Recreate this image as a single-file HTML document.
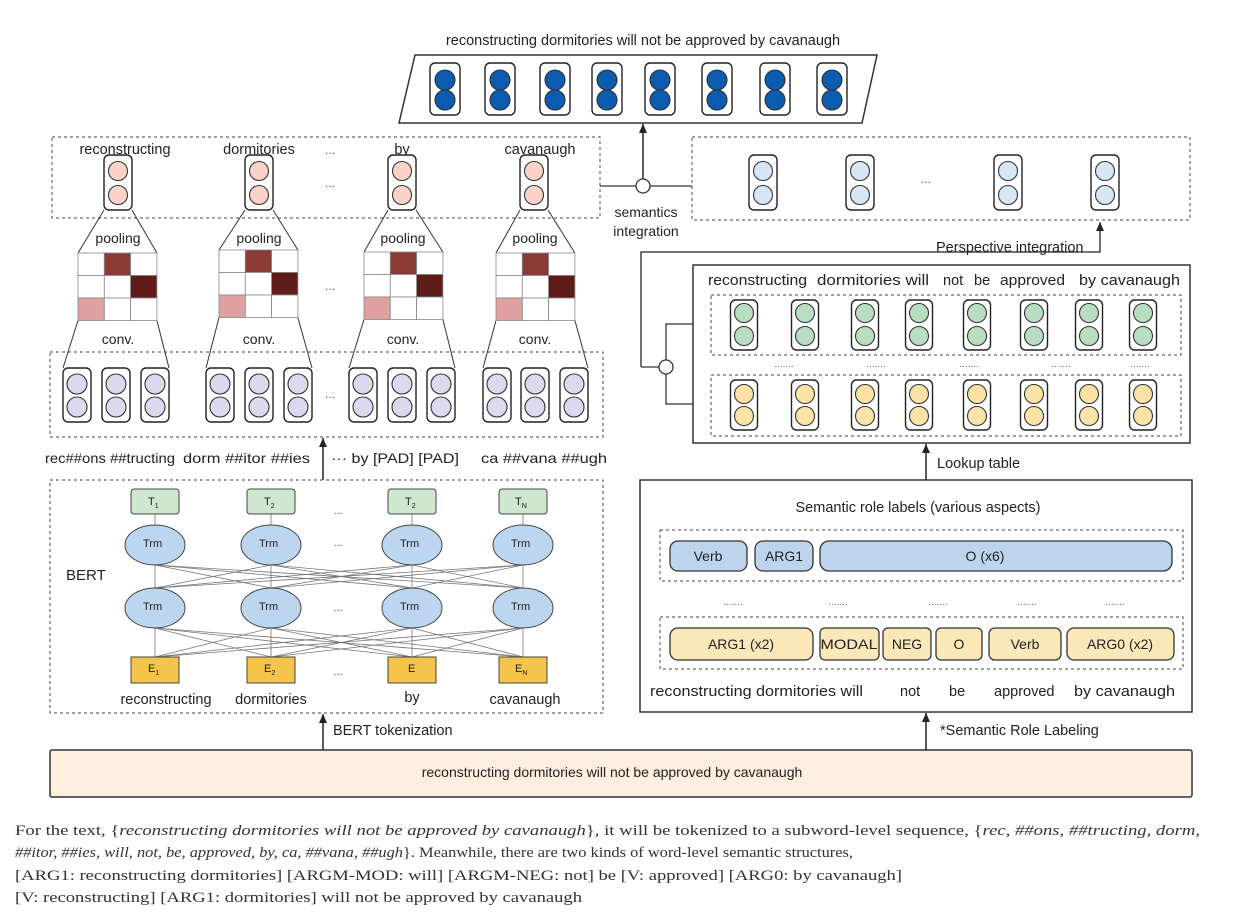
<!DOCTYPE html>
<html><head><meta charset="utf-8">
<style>
html,body{margin:0;padding:0;background:#fff;}
svg{display:block;font-family:"Liberation Sans",sans-serif;}
.serif{font-family:"Liberation Serif",serif;}
</style></head>
<body>
<svg id="s" width="1242" height="916" viewBox="0 0 1242 916" xmlns="http://www.w3.org/2000/svg">
<defs>
<marker id="ah" markerWidth="10" markerHeight="10" refX="9" refY="4" orient="auto" markerUnits="userSpaceOnUse">
<path d="M0,0 L9,4 L0,8 Z" fill="#222"/></marker>
</defs>

<!-- top -->
<text x="643" y="45" font-size="14.5" text-anchor="middle" fill="#222">reconstructing dormitories will not be approved by cavanaugh</text>
<polygon points="415,55 877,55 862,123 399,123" fill="#fff" stroke="#333" stroke-width="1.5"/>

<!-- left top dashed -->
<rect x="52" y="137" width="548" height="81" fill="none" stroke="#444" stroke-dasharray="3,3"/>
<text x="125" y="154" font-size="14.5" text-anchor="middle" fill="#222">reconstructing</text>
<text x="259" y="154" font-size="14.5" text-anchor="middle" fill="#222">dormitories</text>
<text x="330" y="154" font-size="12" text-anchor="middle" fill="#555">...</text>
<text x="402" y="154" font-size="14.5" text-anchor="middle" fill="#222">by</text>
<text x="540" y="154" font-size="14.5" text-anchor="middle" fill="#222">cavanaugh</text>
<text x="330" y="187" font-size="12" text-anchor="middle" fill="#555">...</text>

<text x="118" y="243" font-size="14" text-anchor="middle" fill="#222">pooling</text>
<text x="259" y="243" font-size="14" text-anchor="middle" fill="#222">pooling</text>
<text x="403" y="243" font-size="14" text-anchor="middle" fill="#222">pooling</text>
<text x="535" y="243" font-size="14" text-anchor="middle" fill="#222">pooling</text>
<text x="118" y="344" font-size="14" text-anchor="middle" fill="#222">conv.</text>
<text x="259" y="344" font-size="14" text-anchor="middle" fill="#222">conv.</text>
<text x="403" y="344" font-size="14" text-anchor="middle" fill="#222">conv.</text>
<text x="535" y="344" font-size="14" text-anchor="middle" fill="#222">conv.</text>
<text x="330" y="290" font-size="12" text-anchor="middle" fill="#555">...</text>

<rect x="50" y="352" width="553" height="85" fill="none" stroke="#444" stroke-dasharray="3,3"/>
<text x="330" y="398" font-size="12" text-anchor="middle" fill="#555">...</text>
<text x="45" y="463" font-size="14" fill="#222" textLength="130" lengthAdjust="spacingAndGlyphs">rec##ons ##tructing</text>
<text x="183" y="463" font-size="14" fill="#222" textLength="127" lengthAdjust="spacingAndGlyphs">dorm ##itor ##ies</text>
<text x="331" y="463" font-size="14" fill="#222" textLength="128" lengthAdjust="spacingAndGlyphs">··· by [PAD] [PAD]</text>
<text x="481" y="463" font-size="14" fill="#222" textLength="126" lengthAdjust="spacingAndGlyphs">ca ##vana ##ugh</text>
<line x1="323" y1="480" x2="323" y2="438" stroke="#222" stroke-width="1.5" marker-end="url(#ah)"/>

<!-- BERT -->
<rect x="50" y="480" width="553" height="233" fill="none" stroke="#444" stroke-dasharray="3,3"/>
<text x="66" y="580" font-size="15" fill="#222">BERT</text>
<g id="bert"></g>
<text x="166" y="704" font-size="14.5" text-anchor="middle" fill="#222">reconstructing</text>
<text x="271" y="704" font-size="14.5" text-anchor="middle" fill="#222">dormitories</text>
<text x="412" y="702" font-size="14.5" text-anchor="middle" fill="#222">by</text>
<text x="525" y="704" font-size="14.5" text-anchor="middle" fill="#222">cavanaugh</text>
<text x="338" y="514" font-size="11" text-anchor="middle" fill="#555">...</text>
<text x="338" y="546" font-size="11" text-anchor="middle" fill="#555">...</text>
<text x="338" y="611" font-size="11" text-anchor="middle" fill="#555">...</text>
<text x="338" y="675" font-size="11" text-anchor="middle" fill="#555">...</text>

<line x1="323" y1="750" x2="323" y2="714" stroke="#222" stroke-width="1.5" marker-end="url(#ah)"/>
<text x="333" y="735" font-size="14.5" fill="#222">BERT tokenization</text>

<rect x="50" y="750" width="1142" height="47" fill="#fdeedd" stroke="#333" stroke-width="1.5" rx="2"/>
<text x="612" y="777" font-size="14" text-anchor="middle" fill="#222">reconstructing dormitories will not be approved by cavanaugh</text>

<!-- semantics integration -->
<line x1="600" y1="186" x2="692" y2="186" stroke="#333" stroke-width="1.3"/>
<line x1="643" y1="179" x2="643" y2="124" stroke="#222" stroke-width="1.5" marker-end="url(#ah)"/>
<circle cx="643" cy="186" r="7" fill="#fff" stroke="#333" stroke-width="1.3"/>
<text x="646" y="217" font-size="14" text-anchor="middle" fill="#222">semantics</text>
<text x="646" y="236" font-size="14" text-anchor="middle" fill="#222">integration</text>

<!-- right top dashed -->
<rect x="692" y="137" width="498" height="83" fill="none" stroke="#444" stroke-dasharray="3,3"/>
<text x="926" y="183" font-size="12" text-anchor="middle" fill="#555">...</text>
<polyline points="641,367 641,252 1100,252 1100,222" fill="none" stroke="#222" stroke-width="1.3" marker-end="url(#ah)"/>
<text x="936" y="252" font-size="14.5" fill="#222">Perspective integration</text>
<polyline points="693,324 666,324 666,404 693,404" fill="none" stroke="#333" stroke-width="1.3"/>
<line x1="641" y1="367" x2="660" y2="367" stroke="#333" stroke-width="1.3"/>
<circle cx="666" cy="367" r="7" fill="#fff" stroke="#333" stroke-width="1.3"/>

<rect x="693" y="265" width="497" height="178" fill="#fff" stroke="#333" stroke-width="1.5"/>
<g font-size="14.5" fill="#222">
<text x="708" y="285" textLength="99" lengthAdjust="spacingAndGlyphs">reconstructing</text>
<text x="817" y="285" textLength="112" lengthAdjust="spacingAndGlyphs">dormitories will</text>
<text x="943" y="285">not</text>
<text x="974" y="285">be</text>
<text x="1000" y="285" textLength="65" lengthAdjust="spacingAndGlyphs">approved</text>
<text x="1079" y="285" textLength="101" lengthAdjust="spacingAndGlyphs">by cavanaugh</text>
</g>
<rect x="711" y="295" width="470" height="60" fill="none" stroke="#444" stroke-dasharray="3,3"/>
<rect x="711" y="375" width="470" height="61" fill="none" stroke="#444" stroke-dasharray="3,3"/>
<text x="784" y="367" font-size="10" text-anchor="middle" fill="#666">.......</text>
<text x="876" y="367" font-size="10" text-anchor="middle" fill="#666">.......</text>
<text x="969" y="367" font-size="10" text-anchor="middle" fill="#666">.......</text>
<text x="1061" y="367" font-size="10" text-anchor="middle" fill="#666">.......</text>
<text x="1140" y="367" font-size="10" text-anchor="middle" fill="#666">.......</text>

<line x1="926" y1="480" x2="926" y2="444" stroke="#222" stroke-width="1.5" marker-end="url(#ah)"/>
<text x="937" y="468" font-size="14.5" fill="#222">Lookup table</text>

<!-- SRL box -->
<rect x="640" y="480" width="552" height="232" fill="#fff" stroke="#333" stroke-width="1.5"/>
<text x="918" y="512" font-size="14.5" text-anchor="middle" fill="#222">Semantic  role labels (various aspects)</text>
<rect x="660" y="530" width="523" height="51" fill="none" stroke="#444" stroke-dasharray="3,3"/>
<rect x="670" y="541" width="77" height="30" rx="8" fill="#bcd4ec" stroke="#333" stroke-width="1.3"/>
<rect x="755" y="541" width="58" height="30" rx="8" fill="#bcd4ec" stroke="#333" stroke-width="1.3"/>
<rect x="820" y="541" width="352" height="30" rx="9" fill="#bcd4ec" stroke="#333" stroke-width="1.3"/>
<text x="708" y="561" font-size="14" text-anchor="middle" fill="#222">Verb</text>
<text x="784" y="561" font-size="14" text-anchor="middle" fill="#222">ARG1</text>
<text x="985" y="561" font-size="14" text-anchor="middle" fill="#222">O (x6)</text>
<text x="733" y="605" font-size="10" text-anchor="middle" fill="#666">.......</text>
<text x="838" y="605" font-size="10" text-anchor="middle" fill="#666">.......</text>
<text x="938" y="605" font-size="10" text-anchor="middle" fill="#666">.......</text>
<text x="1027" y="605" font-size="10" text-anchor="middle" fill="#666">.......</text>
<text x="1115" y="605" font-size="10" text-anchor="middle" fill="#666">.......</text>
<rect x="660" y="617" width="523" height="52" fill="none" stroke="#444" stroke-dasharray="3,3"/>
<rect x="670" y="628" width="143" height="32" rx="8" fill="#fbe8b8" stroke="#333" stroke-width="1.3"/>
<rect x="820" y="628" width="59" height="32" rx="5" fill="#fbe8b8" stroke="#333" stroke-width="1.3"/>
<rect x="883" y="628" width="48" height="32" rx="5" fill="#fbe8b8" stroke="#333" stroke-width="1.3"/>
<rect x="936" y="628" width="46" height="32" rx="5" fill="#fbe8b8" stroke="#333" stroke-width="1.3"/>
<rect x="989" y="628" width="72" height="32" rx="6" fill="#fbe8b8" stroke="#333" stroke-width="1.3"/>
<rect x="1067" y="628" width="107" height="32" rx="7" fill="#fbe8b8" stroke="#333" stroke-width="1.3"/>
<text x="741" y="649" font-size="14" text-anchor="middle" fill="#222">ARG1 (x2)</text>
<text x="849" y="649" font-size="14" text-anchor="middle" fill="#222" textLength="57" lengthAdjust="spacingAndGlyphs">MODAL</text>
<text x="907" y="649" font-size="14" text-anchor="middle" fill="#222">NEG</text>
<text x="959" y="649" font-size="14" text-anchor="middle" fill="#222">O</text>
<text x="1025" y="649" font-size="14" text-anchor="middle" fill="#222">Verb</text>
<text x="1120" y="649" font-size="14" text-anchor="middle" fill="#222">ARG0 (x2)</text>
<text x="650" y="696" font-size="14.5" fill="#222" textLength="213" lengthAdjust="spacingAndGlyphs">reconstructing dormitories will</text>
<text x="900" y="696" font-size="14.5" fill="#222">not</text>
<text x="949" y="696" font-size="14.5" fill="#222">be</text>
<text x="994" y="696" font-size="14.5" fill="#222">approved</text>
<text x="1074" y="696" font-size="14.5" fill="#222" textLength="101" lengthAdjust="spacingAndGlyphs">by cavanaugh</text>

<line x1="926" y1="750" x2="926" y2="713" stroke="#222" stroke-width="1.5" marker-end="url(#ah)"/>
<text x="940" y="735" font-size="14.5" fill="#222">*Semantic Role Labeling</text>

<!-- caption -->
<g class="serif" font-size="15" fill="#333">
<text x="15" y="835" textLength="1185" lengthAdjust="spacingAndGlyphs">For the text, {<tspan font-style="italic">reconstructing dormitories will not be approved by cavanaugh</tspan>}, it will be tokenized to a subword-level sequence, {<tspan font-style="italic">rec, ##ons, ##tructing, dorm,</tspan></text>
<text x="15" y="857" textLength="838" lengthAdjust="spacingAndGlyphs"><tspan font-style="italic">##itor, ##ies, will, not, be, approved, by, ca, ##vana, ##ugh</tspan>}. Meanwhile, there are two kinds of word-level semantic structures,</text>
<text x="15" y="880" textLength="887" lengthAdjust="spacingAndGlyphs">[ARG1: reconstructing dormitories] [ARGM-MOD: will] [ARGM-NEG: not] be [V: approved] [ARG0: by cavanaugh]</text>
<text x="15" y="902" textLength="567" lengthAdjust="spacingAndGlyphs">[V: reconstructing] [ARG1: dormitories] will not be approved by cavanaugh</text>
</g>
<g id="shapes"></g>
</svg>
<script>
var NS="http://www.w3.org/2000/svg",g=document.getElementById("shapes"),b=document.getElementById("bert");
function el(p,t,a){var e=document.createElementNS(NS,t);for(var k in a)e.setAttribute(k,a[k]);p.appendChild(e);return e;}
function pill(cx,y1,y2,w,fill,cy1,cy2,r){
 el(g,"rect",{x:cx-w/2,y:y1,width:w,height:y2-y1,rx:5,fill:"#fff",stroke:"#222","stroke-width":1.4});
 el(g,"circle",{cx:cx,cy:cy1,r:r,fill:fill,stroke:"#333","stroke-width":1.1});
 el(g,"circle",{cx:cx,cy:cy2,r:r,fill:fill,stroke:"#333","stroke-width":1.1});
}
[445,500,555,607,660,717,775,832].forEach(function(x){pill(x,63,115,30,"#0b5cb0",80,100,10);});
[118,259,402,534].forEach(function(x){pill(x,155,210,28,"#f9d2c8",171,195,9.5);});
[763,860,1008,1105].forEach(function(x){pill(x,155,210,28,"#d6e6f5",171,195,9.5);});
[744,805,865,919,977,1034,1089,1143].forEach(function(x){pill(x,300,350,27,"#b9ddc3",313,336,9.5);});
[744,805,865,919,977,1034,1089,1143].forEach(function(x){pill(x,380,430,27,"#fbe3a8",394,416,9.5);});
var groups=[[77,116,155],[220,259,298],[363,402,441],[497,535,574]];
var mats=[78,219,364,496],matY=[253,250,252,253],pc=[118,259,402,534];
groups.forEach(function(gr,i){
 gr.forEach(function(x){pill(x,368,422,28,"#dcd8ee",384,407,10);});
 var mx=mats[i],my=matY[i],c=26.3;
 el(g,"line",{x1:pc[i]-14,y1:210,x2:mx,y2:my,stroke:"#333","stroke-width":1});
 el(g,"line",{x1:pc[i]+14,y1:210,x2:mx+3*c,y2:my,stroke:"#333","stroke-width":1});
 var ch=22.5;
 el(g,"line",{x1:mx,y1:my+3*ch,x2:gr[0]-14,y2:368,stroke:"#333","stroke-width":1});
 el(g,"line",{x1:mx+3*c,y1:my+3*ch,x2:gr[2]+14,y2:368,stroke:"#333","stroke-width":1});
 var cols={"0,1":"#8b3a36","1,2":"#5e1b18","2,0":"#dea0a0"};
 for(var r=0;r<3;r++)for(var q=0;q<3;q++){
  el(g,"rect",{x:mx+q*c,y:my+r*ch,width:c,height:ch,fill:cols[r+","+q]||"#fff",stroke:"#888","stroke-width":0.8});
 }
});
var bx=[155,271,412,523];
for(var i=0;i<4;i++)for(var j=0;j<4;j++){
 el(b,"line",{x1:bx[i],y1:657,x2:bx[j],y2:628,stroke:"#777","stroke-width":0.8});
 el(b,"line",{x1:bx[i],y1:588,x2:bx[j],y2:565,stroke:"#777","stroke-width":0.8});
}
bx.forEach(function(x,i){
 el(b,"line",{x1:x,y1:525,x2:x,y2:514,stroke:"#777","stroke-width":0.8});
 el(b,"rect",{x:x-24,y:489,width:48,height:25,rx:3,fill:"#cfe6cf",stroke:"#444","stroke-width":1});
 el(b,"ellipse",{cx:x,cy:545,rx:30,ry:20,fill:"#bcd6ef",stroke:"#444","stroke-width":1});
 el(b,"ellipse",{cx:x,cy:608,rx:30,ry:20,fill:"#bcd6ef",stroke:"#444","stroke-width":1});
 el(b,"rect",{x:x-24,y:657,width:48,height:26,fill:"#f5c44a",stroke:"#444","stroke-width":1});
});
</script>
<div style="position:absolute;left:0;top:0;width:1242px;height:916px;pointer-events:none;font-family:'Liberation Sans',sans-serif;color:#222;">
<span style="position:absolute;left:148px;top:496px;font-size:11px">T<sub style="font-size:7px">1</sub></span>
<span style="position:absolute;left:264px;top:496px;font-size:11px">T<sub style="font-size:7px">2</sub></span>
<span style="position:absolute;left:405px;top:496px;font-size:11px">T<sub style="font-size:7px">2</sub></span>
<span style="position:absolute;left:515px;top:496px;font-size:11px">T<sub style="font-size:7px">N</sub></span>
<span style="position:absolute;left:143px;top:538px;font-size:11px">Trm</span>
<span style="position:absolute;left:259px;top:538px;font-size:11px">Trm</span>
<span style="position:absolute;left:400px;top:538px;font-size:11px">Trm</span>
<span style="position:absolute;left:511px;top:538px;font-size:11px">Trm</span>
<span style="position:absolute;left:143px;top:601px;font-size:11px">Trm</span>
<span style="position:absolute;left:259px;top:601px;font-size:11px">Trm</span>
<span style="position:absolute;left:400px;top:601px;font-size:11px">Trm</span>
<span style="position:absolute;left:511px;top:601px;font-size:11px">Trm</span>
<span style="position:absolute;left:148px;top:663px;font-size:11px">E<sub style="font-size:7px">1</sub></span>
<span style="position:absolute;left:264px;top:663px;font-size:11px">E<sub style="font-size:7px">2</sub></span>
<span style="position:absolute;left:408px;top:663px;font-size:11px">E</span>
<span style="position:absolute;left:515px;top:663px;font-size:11px">E<sub style="font-size:7px">N</sub></span>
</div>
</body></html>
